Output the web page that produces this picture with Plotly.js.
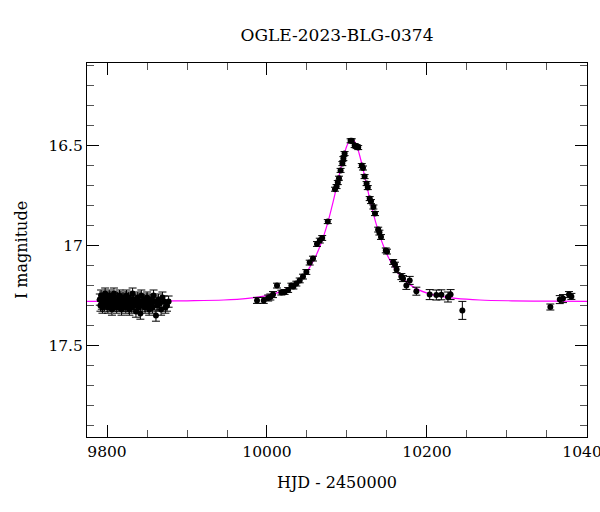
<!DOCTYPE html>
<html>
<head>
<meta charset="utf-8">
<script src="https://cdn.plot.ly/plotly-3.0.1.min.js"></script>
<style>html,body{margin:0;padding:0;background:#fff;}#chart{width:600px;height:512px;}</style>
</head>
<body>
<div id="chart"></div>
<script>
// Baseline cluster (HJD - 2450000, I mag)
const baseT = [9791.0,9791.8,9792.6,9793.5,9794.3,9795.1,9796.0,9796.8,9797.7,9798.5,
9799.4,9800.2,9801.1,9801.9,9802.8,9803.6,9804.5,9805.3,9806.2,9807.0,
9807.9,9808.7,9809.6,9810.4,9811.3,9812.1,9813.0,9813.9,9814.7,9815.6,
9816.5,9817.3,9818.2,9819.1,9820.0,9820.8,9821.7,9822.6,9823.5,9824.4,
9825.3,9826.2,9827.1,9828.0,9829.0,9830.0,9831.0,9832.0,9833.1,9834.1,
9835.2,9836.2,9837.3,9838.4,9839.5,9840.6,9841.7,9842.9,9844.0,9845.2,
9846.4,9847.6,9848.8,9850.1,9851.4,9852.7,9854.0,9855.4,9856.8,9858.2,
9859.7,9861.2,9862.7,9864.3,9865.9,9867.6,9869.3,9871.1,9873.0,9875.0,
9877.0];
const baseMag = [17.27,17.30,17.25,17.29,17.31,17.26,17.28,17.30,17.24,17.27,
17.29,17.26,17.31,17.28,17.25,17.30,17.27,17.29,17.32,17.26,
17.28,17.24,17.30,17.27,17.29,17.31,17.26,17.28,17.30,17.25,
17.29,17.27,17.32,17.28,17.26,17.30,17.29,17.27,17.31,17.25,
17.28,17.30,17.26,17.32,17.29,17.27,17.31,17.24,17.28,17.30,
17.27,17.33,17.29,17.26,17.31,17.28,17.34,17.25,17.30,17.29,
17.27,17.31,17.28,17.26,17.30,17.32,17.27,17.29,17.31,17.25,
17.28,17.35,17.30,17.27,17.29,17.32,17.26,17.28,17.31,17.30,
17.28];
const baseErr = 0.028;

// Event and later points
const evT = [9987.5,9995.9,10001.5,10004.2,10007.5,10012.5,10018,10022,10026.4,10030.5,
10033,10036.7,10040.9,10045,10049.2,10053.4,10057.5,10062.5,10066,10069,
10076,10085,10087,10088.5,10090,10092,10094.2,10095.5,10097,10104.5,
10106,10109.6,10112,10114,10118.5,10120,10122,10124.5,10126,10128.4,
10130,10133,10135,10139,10140.5,10142.5,10148.5,10150,10157.7,10160,
10162,10168,10170,10174.2,10178.4,10186.7,10203.4,10211.7,10218,10226.2,
10229.5,10244.2,10354.2,10366,10370,10377.5,10380.5];
const evMag = [17.274,17.274,17.262,17.257,17.245,17.200,17.235,17.232,17.222,17.200,
17.205,17.190,17.174,17.155,17.132,17.085,17.065,16.992,16.975,16.962,
16.880,16.718,16.705,16.685,16.663,16.624,16.590,16.565,16.540,16.476,
16.476,16.500,16.505,16.510,16.600,16.612,16.655,16.690,16.710,16.765,
16.780,16.807,16.840,16.920,16.935,16.957,17.024,17.030,17.082,17.095,
17.120,17.155,17.165,17.199,17.174,17.228,17.245,17.247,17.246,17.257,
17.245,17.324,17.307,17.270,17.265,17.245,17.254];
const evErr = [0.015,0.015,0.015,0.015,0.015,0.012,0.012,0.012,0.012,0.012,
0.012,0.012,0.012,0.012,0.012,0.012,0.012,0.012,0.012,0.012,
0.010,0.010,0.010,0.010,0.010,0.010,0.010,0.010,0.010,0.010,
0.010,0.010,0.010,0.010,0.010,0.010,0.010,0.010,0.010,0.010,
0.010,0.010,0.010,0.012,0.012,0.012,0.012,0.012,0.012,0.012,
0.015,0.015,0.015,0.020,0.020,0.020,0.025,0.025,0.025,0.025,
0.025,0.045,0.015,0.020,0.020,0.015,0.015];

// Model curve
const modelT = [9775,9850,9900,9946,9976,9996,10011,10026,10036,10046,
10053,10060,10066,10071,10076,10081,10085,10088,10091,10094,
10097,10100,10103,10106,10109,10112,10115,10118,10121,10124,
10127,10131,10136,10141,10146,10152,10159,10166,10176,10186,
10201,10216,10236,10266,10306,10356,10400];
const modelMag = [17.279,17.278,17.276,17.272,17.264,17.253,17.239,17.214,17.187,17.148,
17.111,17.061,17.006,16.950,16.885,16.808,16.741,16.688,16.634,16.583,
16.537,16.500,16.476,16.468,16.476,16.500,16.537,16.583,16.634,16.688,
16.741,16.808,16.885,16.950,17.006,17.061,17.111,17.148,17.187,17.214,
17.239,17.253,17.264,17.272,17.276,17.278,17.279];

const titleText = "OGLE-2023-BLG-0374";
const xTitle = "HJD - 2450000";
const yTitle = "I magnitude";

const serif = "DejaVu Serif, Liberation Serif, serif";

const markerStyle = {color: "#000", size: 6, symbol: "circle"};
const errStyle = {type: "data", color: "#000", thickness: 1, width: 4};

const traces = [
  {x: modelT, y: modelMag, type: "scatter", mode: "lines",
   line: {color: "#ff00ff", width: 1.2, shape: "spline"}, hoverinfo: "skip"},
  {x: baseT, y: baseMag, type: "scatter", mode: "markers", marker: markerStyle,
   error_y: Object.assign({}, errStyle, {type: "constant", value: baseErr})},
  {x: evT, y: evMag, type: "scatter", mode: "markers", marker: markerStyle,
   error_y: Object.assign({}, errStyle, {array: evErr})}
];

const axisCommon = {
  showline: true, linecolor: "#000", linewidth: 1, mirror: "allticks",
  ticks: "inside", ticklen: 12, tickwidth: 1, tickcolor: "#000",
  showgrid: false, zeroline: false,
  tickfont: {family: serif, size: 15.5, color: "#000"},
  exponentformat: "none", tickformat: "d", ticklabeloverflow: "allow"
};

const layout = {
  width: 600, height: 512,
  margin: {l: 87, r: 13, t: 63, b: 75},
  paper_bgcolor: "#fff", plot_bgcolor: "#fff",
  showlegend: false,
  title: {text: titleText, font: {family: serif, size: 17, color: "#000"},
          xref: "paper", x: 0.5, xanchor: "center", yref: "container", y: 0.932, yanchor: "middle"},
  xaxis: Object.assign({}, axisCommon, {
    range: [9775, 10400.02], tick0: 9800, dtick: 200,
    minor: {dtick: 50, tick0: 9800, ticks: "inside", ticklen: 7, tickcolor: "#555", tickwidth: 1, showgrid: false},
    title: {text: xTitle, font: {family: serif, size: 16, color: "#000"}, standoff: 17}
  }),
  yaxis: Object.assign({}, axisCommon, {
    range: [17.957, 16.087], tick0: 16.5, dtick: 0.5, tickformat: "",
    minor: {dtick: 0.1, tick0: 16.5, ticks: "inside", ticklen: 7, tickcolor: "#555", tickwidth: 1, showgrid: false},
    title: {text: yTitle, font: {family: serif, size: 16, color: "#000"}, standoff: 16}
  })
};

Plotly.newPlot("chart", traces, layout, {staticPlot: true, displayModeBar: false});
</script>
</body>
</html>
